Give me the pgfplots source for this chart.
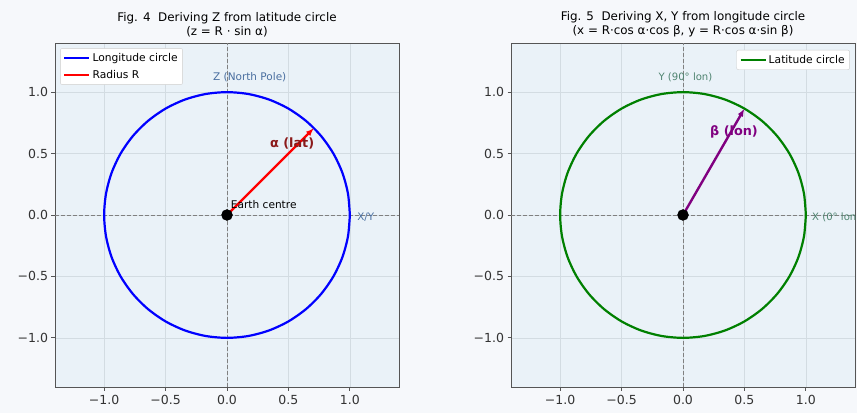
\documentclass[border=0pt]{standalone}
\usepackage{pgfplots}
\usepackage{pgfplotstable}
\pgfplotsset{compat=1.18}
\usepackage{fontspec}
\setmainfont{DejaVu Sans}
\usetikzlibrary{arrows.meta}
\definecolor{figbg}{HTML}{F6F8FB}
\definecolor{axbg}{HTML}{EAF2F8}
\definecolor{spine}{HTML}{555555}
\definecolor{gridc}{HTML}{D3DCE2}
\definecolor{zlab}{HTML}{4A6FA0}
\definecolor{ylab}{HTML}{4F8470}
\definecolor{alab}{HTML}{8B1A1A}
\definecolor{mpgreen}{HTML}{008000}
\definecolor{mppurple}{HTML}{800080}

\pgfplotstableread{
x y
1 0
0.9848 0.1736
0.9397 0.3420
0.8660 0.5000
0.7660 0.6428
0.6428 0.7660
0.5000 0.8660
0.3420 0.9397
0.1736 0.9848
0 1
-0.1736 0.9848
-0.3420 0.9397
-0.5000 0.8660
-0.6428 0.7660
-0.7660 0.6428
-0.8660 0.5000
-0.9397 0.3420
-0.9848 0.1736
-1 0
-0.9848 -0.1736
-0.9397 -0.3420
-0.8660 -0.5000
-0.7660 -0.6428
-0.6428 -0.7660
-0.5000 -0.8660
-0.3420 -0.9397
-0.1736 -0.9848
0 -1
0.1736 -0.9848
0.3420 -0.9397
0.5000 -0.8660
0.6428 -0.7660
0.7660 -0.6428
0.8660 -0.5000
0.9397 -0.3420
0.9848 -0.1736
1 0
}\circtab

\pgfplotsset{
  myaxis/.style={
    width=344pt, height=344pt, scale only axis,
    xmin=-1.4, xmax=1.4, ymin=-1.4, ymax=1.4,
    clip=false,
    axis background/.style={fill=axbg},
    axis line style={spine, line width=0.8pt},
    xtick={-1,-0.5,0,0.5,1}, ytick={-1,-0.5,0,0.5,1},
    xticklabels={−1.0,−0.5,0.0,0.5,1.0},
    yticklabels={−1.0,−0.5,0.0,0.5,1.0},
    tick align=outside, tick pos=left,
    major tick length=3.5pt,
    tick style={spine, line width=0.8pt},
    grid=major, major grid style={gridc, line width=0.7pt},
    ticklabel style={font=\fontsize{12.5}{14}\selectfont, color=black!80},
    xticklabel style={yshift=-1.5pt},
    title style={font=\fontsize{11.9}{14}\selectfont, align=center, yshift=-3.5pt},
    legend style={font=\fontsize{10.7}{12.5}\selectfont, draw=black!20, rounded corners=2pt,
      fill=white, row sep=3pt, inner xsep=3pt, inner ysep=3pt},
    legend cell align=left,
  },
  zeroline/.style={black!50, dash pattern=on 4pt off 2pt, line width=0.9pt, forget plot},
}
\pgfplotsset{legend image code/.code={\draw[#1] (0pt,0pt) -- (25pt,0pt);}}

\begin{document}
\begin{tikzpicture}
\fill[figbg] (0,0) rectangle (857pt,413pt);

% ---------- Left panel ----------
\begin{axis}[myaxis, at={(55pt,26pt)}, anchor=south west,
  title={Fig. 4\ \ Deriving Z from latitude circle\\(z = R · sin α)},
  legend style={at={(0.015,0.985)}, anchor=north west}]
\addplot[zeroline] coordinates {(-1.4,0) (1.4,0)};
\addplot[zeroline] coordinates {(0,-1.4) (0,1.4)};
\addplot[blue, line width=2.2pt, smooth, line join=round] table {\circtab};
\addlegendentry{Longitude circle}
\addplot[red, line width=2.4pt, -{Latex[length=8pt,width=6pt]}, forget plot] coordinates {(0,0) (0.7071,0.7071)};
\addlegendimage{red, line width=2.2pt}
\addlegendentry{Radius R}
\addplot[only marks, mark=*, mark size=5.5pt, black, forget plot] coordinates {(0,0)};
\node[zlab, font=\fontsize{10.5}{12}\selectfont] at (axis cs:0.185,1.12) {Z (North Pole)};
\node[zlab, font=\fontsize{10.3}{12}\selectfont, anchor=west, inner sep=0pt] at (axis cs:1.06,-0.02) {X/Y};
\node[black, font=\fontsize{10.6}{12}\selectfont, anchor=west, inner sep=0pt] at (axis cs:0.03,0.085) {Earth centre};
\node[alab, font=\fontsize{12.8}{14}\selectfont\bfseries] at (axis cs:0.53,0.585) {α (lat)};
\end{axis}

% ---------- Right panel ----------
\begin{axis}[myaxis, at={(511pt,26pt)}, anchor=south west,
  title={Fig. 5\ \ Deriving X, Y from longitude circle\\(x = R·cos α·cos β, y = R·cos α·sin β)},
  legend style={at={(0.985,0.98)}, anchor=north east}]
\addplot[zeroline] coordinates {(-1.4,0) (1.4,0)};
\addplot[zeroline] coordinates {(0,-1.4) (0,1.4)};
\addplot[mpgreen, line width=2.2pt, smooth, line join=round] table {\circtab};
\addlegendentry{Latitude circle}
\addplot[mppurple, line width=2.4pt, -{Latex[length=8pt,width=6pt]}, forget plot] coordinates {(0,0) (0.5,0.8660)};
\addplot[only marks, mark=*, mark size=5.5pt, black, forget plot] coordinates {(0,0)};
\node[ylab, font=\fontsize{10.1}{12}\selectfont] at (axis cs:0.02,1.12) {Y (90° lon)};
\node[overlay, ylab, font=\fontsize{10.1}{12}\selectfont, anchor=west, inner sep=0pt] at (axis cs:1.05,-0.02) {X (0° lon)};
\node[mppurple, font=\fontsize{12.8}{14}\selectfont\bfseries] at (axis cs:0.415,0.675) {β (lon)};
\end{axis}
\end{tikzpicture}
\end{document}
